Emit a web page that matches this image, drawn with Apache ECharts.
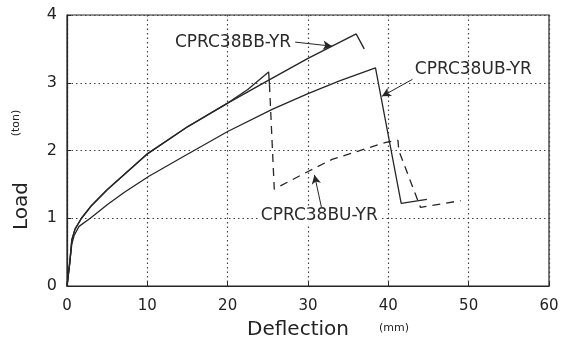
<!DOCTYPE html>
<html>
<head>
<meta charset="utf-8">
<title>Load - Deflection</title>
<script src="https://cdn.jsdelivr.net/npm/echarts@6/dist/echarts.min.js"></script>
<style>
  html, body { margin: 0; padding: 0; background: #fff; }
  #main { width: 566px; height: 345px; }
</style>
</head>
<body>
<div id="main"></div>
<script>
// CPRC38BB-YR (solid, upper curve)
var bbDefl = [0, 0.35, 0.6, 1.0, 1.8, 3, 5, 10, 15, 20, 25, 30, 36, 37];
var bbLoad = [0, 0.35, 0.68, 0.84, 1.0, 1.18, 1.42, 1.95, 2.35, 2.7, 3.03, 3.36, 3.72, 3.5];

// CPRC38UB-YR (solid, lower curve)
var ubDefl = [0, 0.35, 0.6, 0.9, 1.5, 2.9, 5, 7.1, 10.2, 13.9, 20, 25.6, 30, 34, 38.4, 41.6, 44.8];
var ubLoad = [0, 0.35, 0.62, 0.75, 0.88, 1.0, 1.2, 1.38, 1.62, 1.87, 2.28, 2.61, 2.84, 3.03, 3.22, 1.22, 1.28];

// CPRC38BU-YR: solid up to its peak, dashed after
var buDefl = [0, 0.35, 0.6, 1.0, 1.8, 3, 5, 10, 15, 20, 22.5, 25.1, 25.2];
var buLoad = [0, 0.35, 0.68, 0.84, 1.0, 1.18, 1.42, 1.95, 2.35, 2.7, 2.9, 3.16, 2.98];
var buDashDefl = [25.2, 25.8, 30, 33, 39.7, 41.2, 41.3, 44, 45, 49];
var buDashLoad = [2.98, 1.43, 1.69, 1.87, 2.12, 2.15, 2.0, 1.16, 1.18, 1.26];

var xTicks = [0, 10, 20, 30, 40, 50, 60];
var yTicks = [0, 1, 2, 3, 4];

function pairs(xs, ys) {
    return xs.map(function(x, i) { return [x, ys[i]]; });
}

var ink = '#262626';
var font = 'DejaVu Sans';

function arrow(from, to) {
    return {
        silent: true,
        symbol: ['none', 'arrow'],
        symbolSize: [7, 9],
        lineStyle: { color: ink, width: 1, type: 'solid' },
        label: { show: false },
        data: [[{ coord: from }, { coord: to }]]
    };
}

var chart = echarts.init(document.getElementById('main'), null, { renderer: 'canvas' });

var option = {
    animation: false,
    backgroundColor: '#fff',
    grid: {
        left: 67, right: 17, top: 15, bottom: 59,
        show: true, borderColor: ink, borderWidth: 1.2
    },
    xAxis: {
        type: 'value',
        min: xTicks[0], max: xTicks[xTicks.length - 1], interval: 10,
        axisLine: { show: true, lineStyle: { color: ink, width: 1.2 } },
        axisTick: { show: true, inside: true, length: 4, lineStyle: { color: ink } },
        axisLabel: { color: '#222', fontFamily: font, fontSize: 15, margin: 13 },
        splitLine: { show: true, lineStyle: { color: '#444', width: 1.2, type: [1.5, 3] } }
    },
    yAxis: {
        type: 'value',
        min: yTicks[0], max: yTicks[yTicks.length - 1], interval: 1,
        axisLine: { show: true, lineStyle: { color: ink, width: 1.2 } },
        axisTick: { show: true, inside: true, length: 4, lineStyle: { color: ink } },
        axisLabel: { color: '#222', fontFamily: font, fontSize: 16, margin: 10 },
        splitLine: { show: true, lineStyle: { color: '#444', width: 1.2, type: [1.5, 3] } }
    },
    series: [
        {
            name: 'CPRC38BB-YR', type: 'line', showSymbol: false,
            lineStyle: { color: ink, width: 1.4 },
            data: pairs(bbDefl, bbLoad),
            markLine: arrow([28.4, 3.6], [33, 3.54])
        },
        {
            name: 'CPRC38UB-YR', type: 'line', showSymbol: false,
            lineStyle: { color: ink, width: 1.3 },
            data: pairs(ubDefl, ubLoad),
            markLine: arrow([43, 3.05], [39.2, 2.8])
        },
        {
            name: 'CPRC38BU-YR', type: 'line', showSymbol: false,
            lineStyle: { color: ink, width: 1.3 },
            data: pairs(buDefl, buLoad)
        },
        {
            name: 'CPRC38BU-YR', type: 'line', showSymbol: false,
            lineStyle: { color: ink, width: 1.3, type: [8, 6] },
            data: pairs(buDashDefl, buDashLoad),
            markLine: arrow([31.75, 1.12], [30.8, 1.64])
        }
    ]
};

chart.setOption(option);

// curve labels placed in data space, axis titles around the frame
function at(x, y) { return chart.convertToPixel({ gridIndex: 0 }, [x, y]); }

var pBB = at(27.9, 3.6);
var pUB = at(43.3, 3.2);
var pBU = at(24, 1.04);

var labelStyle = { fill: '#2a2a2a', font: '17px "DejaVu Sans"', textVerticalAlign: 'middle' };

chart.setOption({
    graphic: [
        { type: 'text', x: pBB[0], y: pBB[1], z: 10,
          style: Object.assign({ text: 'CPRC38BB-YR', textAlign: 'right' }, labelStyle) },
        { type: 'text', x: pUB[0], y: pUB[1], z: 10,
          style: Object.assign({ text: 'CPRC38UB-YR', textAlign: 'left' }, labelStyle) },
        { type: 'text', x: pBU[0], y: pBU[1], z: 10,
          style: Object.assign({ text: 'CPRC38BU-YR', textAlign: 'left',
                                 backgroundColor: '#fff', padding: [0, 1] }, labelStyle) },
        { type: 'text', x: 22, y: 206, rotation: Math.PI / 2,
          style: { text: 'Load', fill: '#222', font: '20px "DejaVu Sans"',
                   textAlign: 'center', textVerticalAlign: 'middle' } },
        { type: 'text', x: 16, y: 123, rotation: Math.PI / 2,
          style: { text: '(ton)', fill: '#222', font: '11px "DejaVu Sans"',
                   textAlign: 'center', textVerticalAlign: 'middle' } },
        { type: 'text', x: 298, y: 330,
          style: { text: 'Deflection', fill: '#222', font: '20px "DejaVu Sans"',
                   textAlign: 'center', textVerticalAlign: 'middle' } },
        { type: 'text', x: 394, y: 328,
          style: { text: '(mm)', fill: '#222', font: '11px "DejaVu Sans"',
                   textAlign: 'center', textVerticalAlign: 'middle' } }
    ]
});
</script>
</body>
</html>
